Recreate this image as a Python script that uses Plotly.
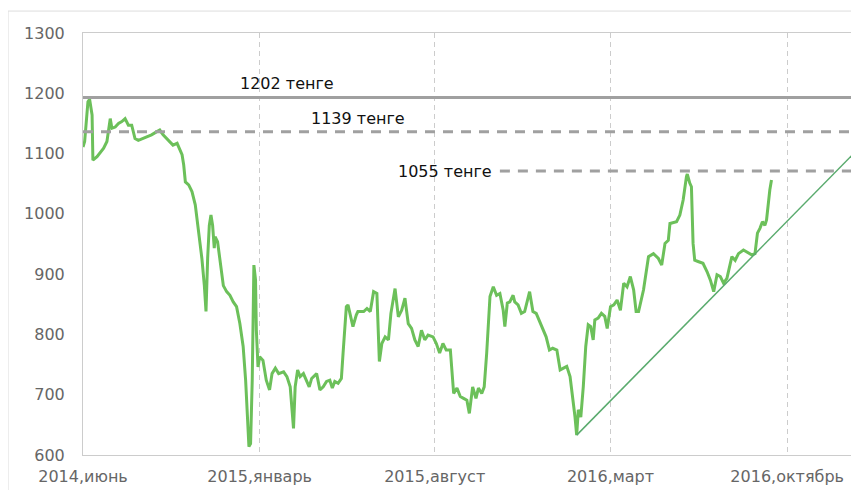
import plotly.graph_objects as go

# ---- data ----
dates = [
    "2014-06-01","2014-06-03","2014-06-07","2014-06-09","2014-06-12","2014-06-13","2014-06-18","2014-06-22","2014-06-26","2014-06-30",
    "2014-07-04","2014-07-06","2014-07-10","2014-07-14","2014-07-18","2014-07-22","2014-07-26","2014-07-30",
    "2014-08-03","2014-08-07","2014-08-13","2014-08-19","2014-08-23","2014-08-29",
    "2014-09-02","2014-09-06","2014-09-12","2014-09-18","2014-09-23","2014-09-27","2014-09-29",
    "2014-10-01","2014-10-03","2014-10-07","2014-10-11","2014-10-15","2014-10-19","2014-10-23","2014-10-26","2014-10-28","2014-10-30",
    "2014-11-01","2014-11-03","2014-11-05","2014-11-07","2014-11-08","2014-11-11","2014-11-14","2014-11-18","2014-11-22","2014-11-26","2014-11-30",
    "2014-12-04","2014-12-08","2014-12-12","2014-12-15","2014-12-17","2014-12-19","2014-12-21","2014-12-23","2014-12-25","2014-12-27","2014-12-28","2014-12-30",
    "2015-01-01","2015-01-05","2015-01-09","2015-01-13","2015-01-16","2015-01-20","2015-01-24","2015-01-30",
    "2015-02-03","2015-02-07","2015-02-11","2015-02-13","2015-02-16","2015-02-19","2015-02-23","2015-02-27",
    "2015-03-02","2015-03-05","2015-03-09","2015-03-11","2015-03-15","2015-03-19","2015-03-23","2015-03-27","2015-03-30",
    "2015-04-02","2015-04-06","2015-04-10","2015-04-12","2015-04-16","2015-04-18","2015-04-20","2015-04-24","2015-04-28","2015-04-30",
    "2015-05-07","2015-05-11","2015-05-15","2015-05-19","2015-05-23","2015-05-26","2015-05-29",
    "2015-06-02","2015-06-06","2015-06-09","2015-06-14","2015-06-18","2015-06-22","2015-06-26","2015-06-30",
    "2015-07-04","2015-07-08","2015-07-12","2015-07-16","2015-07-20","2015-07-24","2015-07-30",
    "2015-08-03","2015-08-07","2015-08-11","2015-08-15","2015-08-20","2015-08-24","2015-08-28",
    "2015-09-01","2015-09-05","2015-09-09","2015-09-12","2015-09-16","2015-09-20","2015-09-23","2015-09-27","2015-09-30",
    "2015-10-03","2015-10-07","2015-10-11","2015-10-15","2015-10-19","2015-10-23","2015-10-25","2015-10-28","2015-10-31",
    "2015-11-04","2015-11-06","2015-11-10","2015-11-14","2015-11-18","2015-11-24","2015-11-28",
    "2015-12-02","2015-12-06","2015-12-10","2015-12-14","2015-12-18","2015-12-22","2015-12-27","2015-12-31",
    "2016-01-04","2016-01-08","2016-01-12","2016-01-16","2016-01-18","2016-01-20","2016-01-22","2016-01-25","2016-01-28","2016-01-31",
    "2016-02-03","2016-02-06","2016-02-09","2016-02-11","2016-02-15","2016-02-19","2016-02-23","2016-02-26",
    "2016-03-01","2016-03-05","2016-03-09","2016-03-13","2016-03-17","2016-03-21","2016-03-25","2016-03-29",
    "2016-04-01","2016-04-04","2016-04-10","2016-04-16","2016-04-22","2016-04-28",
    "2016-05-02","2016-05-06","2016-05-10","2016-05-12","2016-05-20","2016-05-24","2016-05-28",
    "2016-06-01","2016-06-02","2016-06-05","2016-06-07","2016-06-09","2016-06-11","2016-06-15","2016-06-21","2016-06-26","2016-06-30",
    "2016-07-04","2016-07-08","2016-07-12","2016-07-16","2016-07-20","2016-07-23","2016-07-26","2016-07-30",
    "2016-08-03","2016-08-09","2016-08-13","2016-08-19","2016-08-23","2016-08-26","2016-08-29",
    "2016-09-01","2016-09-04","2016-09-06","2016-09-10","2016-09-12",
]
values = [
    1111,1120,1186,1190,1164,1089,1095,1103,1109,1120,
    1158,1142,1144,1150,1153,1158,1147,1147,
    1125,1122,1125,1128,1131,1136,
    1139,1131,1122,1114,1117,1106,1098,
    1081,1053,1048,1037,1015,970,926,881,838,927,
    981,998,981,943,962,954,920,881,871,865,854,
    846,818,780,724,669,614,619,724,915,890,807,746,
    763,757,724,708,735,744,735,738,
    730,713,644,713,741,730,735,724,
    713,727,733,735,708,713,722,724,711,
    722,719,727,768,846,849,835,813,832,838,
    838,843,838,871,868,755,785,
    796,791,835,876,829,840,860,818,
    810,791,780,807,791,799,796,
    785,769,785,774,774,702,711,
    697,694,691,669,713,694,711,702,713,
    769,863,879,865,868,840,813,852,854,
    865,854,849,835,838,871,838,
    835,821,807,796,774,777,774,741,
    744,747,730,691,663,633,675,663,713,780,
    816,813,791,824,827,835,830,810,
    846,849,857,840,885,879,896,874,
    838,838,874,929,934,926,
    915,951,956,984,987,998,1023,
    1062,1066,1051,1045,951,923,921,918,904,890,
    871,899,896,885,893,909,929,923,
    934,940,937,932,934,968,976,
    987,981,990,1040,1056,
]

trend_dates = ["2016-01-20", "2016-12-27"]
trend_values = [633, 1109]

level_values = [1193, 1136, 1071]
level_labels = ["1202 тенге", "1139 тенге", "1055 тенге"]
level_starts = ["2014-06-01", "2014-06-01", "2015-10-19"]
level_label_values = [1217, 1159, 1071]

tick_dates = ["2014-06-01", "2015-01-01", "2015-08-01", "2016-03-01", "2016-10-01"]
tick_labels = ["2014,июнь", "2015,январь", "2015,август", "2016,март", "2016,октябрь"]

x_start, x_end = "2014-06-01", "2016-12-27"

FONT = "DejaVu Sans"

fig = go.Figure()

fig.add_trace(go.Scatter(
    x=dates, y=values, mode="lines",
    line=dict(color="#6cc05a", width=3), hoverinfo="skip", showlegend=False,
))
fig.add_trace(go.Scatter(
    x=trend_dates, y=trend_values, mode="lines",
    line=dict(color="#5aab6e", width=1.5), hoverinfo="skip", showlegend=False,
))

dashes = ["solid", "10px,8px", "10px,8px"]
for v, s, d in zip(level_values, level_starts, dashes):
    fig.add_trace(go.Scatter(
        x=[s, x_end], y=[v, v], mode="lines",
        line=dict(color="#a0a0a0", width=3, dash=d), hoverinfo="skip", showlegend=False,
    ))

# labels
label_pos = [(0.263, "center"), (0.354, "center"), (0.529, "right")]
for (px, anchor), lv, txt in zip(label_pos, level_label_values, level_labels):
    fig.add_annotation(
        x=px, xref="paper", y=lv, yref="y", text=txt, showarrow=False,
        xanchor=anchor, yanchor="middle",
        font=dict(family=FONT, size=16, color="#111111"),
    )

# outer frame
fig.add_shape(type="rect", xref="paper", yref="paper",
              x0=-0.0966, x1=1.3, y0=-0.3, y1=1.052,
              line=dict(color="#dddddd", width=1), layer="below")

fig.update_layout(
    width=851, height=482,
    margin=dict(l=75, r=0, t=25, b=35, autoexpand=False),
    paper_bgcolor="white", plot_bgcolor="white",
    showlegend=False,
    xaxis=dict(
        type="date", range=[x_start, x_end], automargin=False,
        tickmode="array", tickvals=tick_dates, ticktext=tick_labels,
        showgrid=True, gridcolor="#cccccc", griddash="5px,4px", gridwidth=1,
        showline=True, linecolor="#cccccc", linewidth=1, mirror=True,
        ticks="", ticklabelstandoff=7,
        tickfont=dict(family=FONT, size=16, color="#666666"),
        zeroline=False,
    ),
    yaxis=dict(
        range=[600, 1300], tickmode="array", automargin=False,
        tickvals=[600, 700, 800, 900, 1000, 1100, 1200, 1300],
        showgrid=False,
        showline=True, linecolor="#cccccc", linewidth=1, mirror=True,
        ticks="", ticklabelstandoff=14,
        tickfont=dict(family=FONT, size=16, color="#666666"),
        zeroline=False,
    ),
)

fig.write_html("out.html")
